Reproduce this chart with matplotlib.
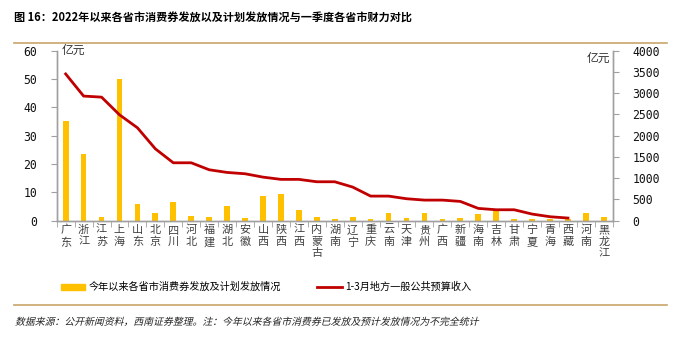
import numpy as np
import matplotlib
matplotlib.use('Agg')
import matplotlib.pyplot as plt
from matplotlib.patches import Patch, PathPatch
from matplotlib.lines import Line2D
from matplotlib.textpath import TextPath
from matplotlib.font_manager import FontProperties
from matplotlib.transforms import Affine2D, IdentityTransform

plt.rcParams['font.family'] = ['Noto Sans CJK SC', 'DejaVu Sans']

provinces = ['广东', '浙江', '江苏', '上海', '山东', '北京', '四川', '河北', '福建', '湖北',
             '安徽', '山西', '陕西', '江西', '内蒙古', '湖南', '辽宁', '重庆', '云南', '天津',
             '贵州', '广西', '新疆', '海南', '吉林', '甘肃', '宁夏', '青海', '西藏', '河南', '黑龙江']

# 消费券发放 (亿元, 左轴)
coupons = [35.0, 23.4, 1.3, 49.8, 6.0, 2.9, 6.5, 1.8, 1.3, 5.2,
           0.8, 8.6, 9.4, 3.9, 1.3, 0.5, 1.3, 0.5, 2.9, 0.8,
           2.9, 0.5, 0.8, 2.2, 3.5, 0.5, 0.5, 0.5, 0.5, 2.6, 1.3]

# 1-3月地方一般公共预算收入 (亿元, 右轴), 河南/黑龙江 无数据
revenue = [3450, 2930, 2905, 2490, 2185, 1690, 1362, 1362, 1198, 1135,
           1104, 1025, 972, 972, 916, 916, 791, 579, 579, 517,
           485, 485, 454, 290, 258, 258, 157, 94, 63, np.nan, np.nan]

left_ticks = [0, 10, 20, 30, 40, 50, 60]
right_ticks = [0, 500, 1000, 1500, 2000, 2500, 3000, 3500, 4000]

bar_color = '#FFC000'
line_color = '#C00000'
spine_color = '#A0A0A0'
tan = '#C9A46C'

fig = plt.figure(figsize=(6.79, 3.37), dpi=100)
ax = fig.add_axes([0.0835, 0.345, 0.819, 0.505])
ax2 = ax.twinx()

x = np.arange(len(provinces))
ax.bar(x, coupons, width=0.32, color=bar_color, zorder=2)
ax2.plot(x, revenue, color=line_color, lw=2, zorder=3)

ax.set_xlim(-0.5, len(provinces) - 0.5)
ax.set_ylim(0, 60)
ax2.set_ylim(0, 4000)
ax.set_yticks(left_ticks)
ax2.set_yticks(right_ticks)

mono = dict(family='DejaVu Sans Mono', size=8.3, color='#111111')
ax.set_yticklabels([str(t) for t in left_ticks], fontdict=mono)
ax2.set_yticklabels([str(t) for t in right_ticks], fontdict=mono)

# 类别标签竖排
ax.set_xticks(x)
ax.set_xticklabels(['\n'.join(p) for p in provinces], fontsize=8, linespacing=1.22,
                   va='top', color='#404040')
ax.tick_params(axis='x', which='major', length=0, pad=3)
ax.set_xticks(np.arange(-0.5, len(provinces)), minor=True)
ax.tick_params(axis='x', which='minor', length=4, color=spine_color, direction='out')
ax.tick_params(axis='y', length=4, color=spine_color, pad=10)
ax2.tick_params(axis='y', length=4, color=spine_color, pad=10)

for a in (ax, ax2):
    a.spines['top'].set_visible(False)
    for s in ('left', 'right', 'bottom'):
        a.spines[s].set_color(spine_color)
        a.spines[s].set_linewidth(1)

ax.text(0.008, 1.0, '亿元', transform=ax.transAxes, fontsize=8.5, color='#333333',
        ha='left', va='center')
ax2.text(0.995, 0.955, '亿元', transform=ax2.transAxes, fontsize=8.5, color='#333333',
         ha='right', va='center')

# 标题、分隔线
fig.text(0.02, 0.947, '图 16：2022年以来各省市消费券发放以及计划发放情况与一季度各省市财力对比',
         fontsize=8.0, fontweight='bold', va='center', ha='left')
fig.add_artist(Line2D([0.02, 0.982], [0.872, 0.872], color=tan, lw=1.2))
fig.add_artist(Line2D([0.02, 0.982], [0.094, 0.094], color=tan, lw=1.2))

# 来源（斜体，用倾斜的文字路径模拟）
source = '数据来源：公开新闻资料，西南证券整理。注：今年以来各省市消费券已发放及预计发放情况为不完全统计'
tp = TextPath((0, 0), source, size=7.1, prop=FontProperties(family='Noto Sans CJK SC'))
tr = Affine2D().skew_deg(14, 0).scale(fig.dpi / 72).translate(15, 337 - 325)
fig.add_artist(PathPatch(tp, transform=tr + IdentityTransform(), color='#222222', lw=0))

handles = [Patch(color=bar_color), Line2D([0], [0], color=line_color, lw=2)]
labels = ['今年以来各省市消费券发放及计划发放情况', '1-3月地方一般公共预算收入']
fig.legend(handles, labels, loc='center left', bbox_to_anchor=(0.09, 0.148), ncol=2,
           frameon=False, fontsize=7.3, handlelength=2.4, handleheight=0.5,
           handletextpad=0.3, columnspacing=3.6, borderpad=0, borderaxespad=0)

fig.savefig('out.png', dpi=100)
